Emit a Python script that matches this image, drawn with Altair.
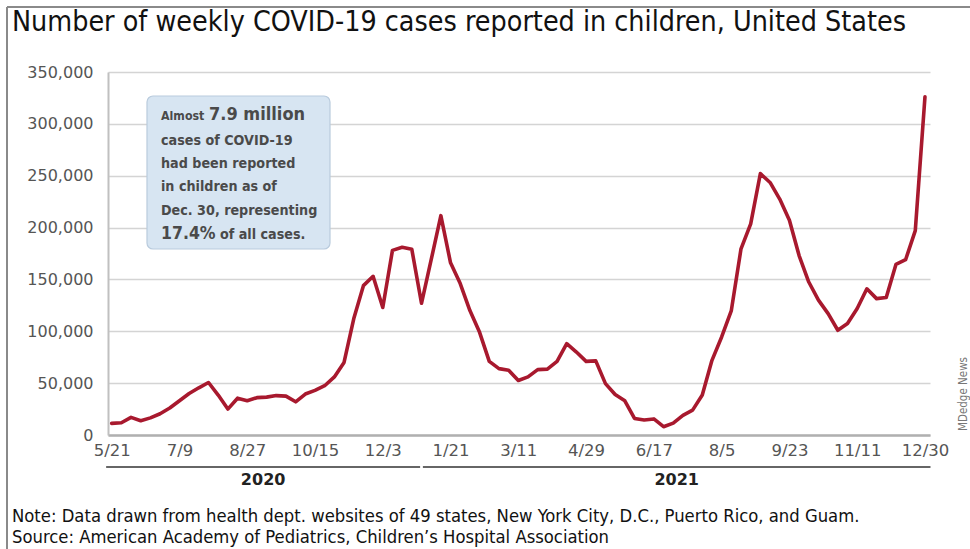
import altair as alt
import pandas as pd
import json

# ---------------- data ----------------
start_date = "2020-05-21"
end_date = "2021-12-30"
weekly_cases = [
    11250, 11800, 17000, 13800, 16500, 20500, 26000, 33000, 40000, 45500,
    50600, 38500, 25000, 35500, 33000, 36000, 36500, 38000, 37500, 32000,
    39500, 43000, 47500, 56000, 70000, 112000, 144000, 153000, 123000, 178000,
    181000, 179000, 127000, 169000, 211500, 166000, 146000, 120000, 99000, 71000,
    64000, 62500, 52500, 56000, 63000, 63500, 71000, 88000, 80000, 71000,
    71500, 49500, 39000, 33000, 16000, 14500, 15500, 8000, 11500, 19000,
    24000, 38500, 72000, 94500, 120000, 179500, 203500, 252000, 243500, 227500,
    207000, 173000, 147500, 130000, 117000, 101000, 107500, 122000, 141000, 131500,
    132500, 164500, 169000, 197000, 326000,
]
tick_labels = ["5/21", "7/9", "8/27", "10/15", "12/3", "1/21", "3/11",
               "4/29", "6/17", "8/5", "9/23", "11/11", "12/30"]
y_ticks = [0, 50000, 100000, 150000, 200000, 250000, 300000, 350000]
years = ["2020", "2021"]
year_span_start = ["2020-05-17", "2021-01-01"]
year_span_end = ["2020-12-30", "2022-01-03"]

title_text = "Number of weekly COVID-19 cases reported in children, United States"
note_text = "Note: Data drawn from health dept. websites of 49 states, New York City, D.C., Puerto Rico, and Guam."
source_text = "Source: American Academy of Pediatrics, Children\u2019s Hospital Association"
box_lines = ["cases of COVID-19", "had been reported", "in children as of", "Dec. 30, representing"]

# ---------------- build tables ----------------
dates = pd.date_range(start_date, end_date, freq="7D")
t0 = pd.Timestamp(start_date)
df = pd.DataFrame({"date": dates, "cases": weekly_cases})
df["week"] = (df["date"] - t0).dt.days / 7.0

def to_week(s):
    return (pd.Timestamp(s) - t0).days / 7.0

tick_weeks = [7 * i for i in range(len(tick_labels))]
label_expr = json.dumps(tick_labels) + "[round(datum.value / 7)]"

years_df = pd.DataFrame({
    "year": years,
    "x1": [to_week(s) for s in year_span_start],
    "x2": [to_week(s) for s in year_span_end],
})
years_df["mid"] = (years_df["x1"] + years_df["x2"]) / 2

W, H = 822, 363
xscale = alt.Scale(domain=[-0.38, 84.52], nice=False, zero=False)
yscale = alt.Scale(domain=[0, 350000], nice=False)

FONT_AX = "DejaVu Sans"
FONT_C = "DejaVu Sans Condensed, Liberation Sans Narrow, sans-serif"

one = alt.Data(values=[{"a": 1}])

line = alt.Chart(df).mark_line(
    color="#a8192e", strokeWidth=3.6, strokeJoin="round", strokeCap="round"
).encode(
    x=alt.X("week:Q", scale=xscale, title=None,
            axis=alt.Axis(values=tick_weeks, labelExpr=label_expr, grid=False,
                          ticks=False, domainColor="#b0b0b0", domainWidth=2.5,
                          labelFont=FONT_AX, labelFontSize=16.5, labelColor="#555555",
                          labelPadding=7, labelFlush=False)),
    y=alt.Y("cases:Q", scale=yscale, title=None,
            axis=alt.Axis(values=y_ticks, format=",.0f", grid=True, gridColor="#d4d4d4",
                          gridWidth=1.5, ticks=False, domainColor="#c0c0c0",
                          domainWidth=2, labelFont=FONT_AX, labelFontSize=16,
                          labelColor="#555555", labelPadding=15)),
)

# year brackets
year_rules = alt.Chart(years_df).mark_rule(color="#333333", strokeWidth=1.6).encode(
    x=alt.X("x1:Q", scale=xscale), x2="x2:Q", y=alt.value(395)
)
year_text = alt.Chart(years_df).mark_text(
    font=FONT_AX, fontSize=16, fontWeight="bold", color="#222222", baseline="middle"
).encode(x=alt.X("mid:Q", scale=xscale), y=alt.value(408), text="year:N")

# annotation box
box = alt.Chart(one).mark_rect(
    fill="#d7e5f2", stroke="#b9cbdd", strokeWidth=1.2, cornerRadius=6
).encode(x=alt.value(39), x2=alt.value(222), y=alt.value(24), y2=alt.value(177))

def txt(s, x, y, size, weight="normal", font=FONT_C, color="#4a4a4a", align="left", angle=None):
    kw = dict(font=font, fontSize=size, fontWeight=weight, color=color,
              align=align, baseline="middle", text=s)
    if angle is not None:
        kw["angle"] = angle
    return alt.Chart(one).mark_text(**kw).encode(x=alt.value(x), y=alt.value(y))

box_y = [69, 92, 115, 139]
box_texts = [txt("Almost", 53, 44, 12.3, "bold"),
             txt("7.9 million", 101, 43, 18, "bold")]
for s, yy in zip(box_lines, box_y):
    box_texts.append(txt(s, 53, yy, 14.2, "bold"))
box_texts.append(txt("17.4%", 53, 162, 17.5, "bold"))
box_texts.append(txt("of all cases.", 112, 163, 14.2, "bold"))

title = txt(title_text, -96, -50, 28.4, "normal", color="#111111")
note = txt(note_text, -96, 445, 18.3, "normal", color="#111111")
source = txt(source_text, -96, 466, 18.3, "normal", color="#111111")
credit = txt("MDedge News", 856, 322, 11.5, "normal",
             color="#777777", align="center", angle=270)

frame_left = alt.Chart(one).mark_rule(color="#8a8a8a", strokeWidth=2).encode(
    x=alt.value(-101), y=alt.value(-65), y2=alt.value(480))
frame_top = alt.Chart(one).mark_rule(color="#8a8a8a", strokeWidth=2).encode(
    x=alt.value(-101), x2=alt.value(870), y=alt.value(-65))

chart = alt.layer(
    frame_left, frame_top, line, year_rules, year_text, box, *box_texts,
    title, note, source, credit
).properties(
    width=W, height=H,
    padding={"left": 108, "top": 72, "right": 40, "bottom": 114},
    autosize=alt.AutoSizeParams(type="none"),
    background="white",
).configure_view(stroke=None)

chart.save("out.html", embed_options={"renderer": "svg", "actions": False})
